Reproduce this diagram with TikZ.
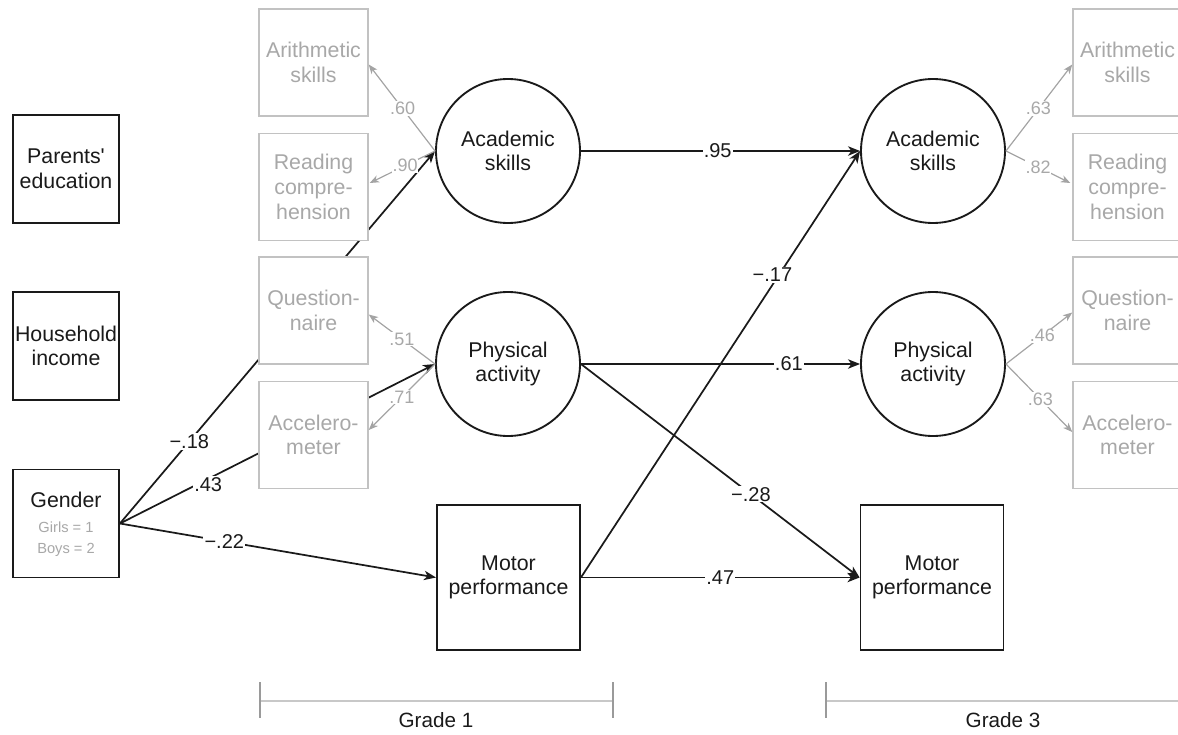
\documentclass[tikz,border=0pt]{standalone}
\usepackage{fontspec}
\setmainfont{Liberation Sans}
\usetikzlibrary{arrows.meta,calc}
\definecolor{ink}{HTML}{1A1A1A}
\definecolor{grayline}{HTML}{C2C2C2}
\definecolor{graytext}{HTML}{A8A8A8}
\definecolor{grayarrow}{HTML}{A4A4A4}
\definecolor{barline}{HTML}{C8C8C8}
\definecolor{tickgray}{HTML}{9A9A9A}
\begin{document}
\begin{tikzpicture}[x=0.75pt,y=-0.75pt,
  txt/.style={font=\fontsize{16}{18.5}\selectfont},
  blackbox/.style={txt, draw=ink, line width=1.4pt, fill=white, align=center, text=ink, inner sep=0pt},
  leftbox/.style={blackbox, minimum width=79.5pt, minimum height=81pt},
  motorbox/.style={blackbox, minimum width=107.25pt, minimum height=108.75pt},
  latent/.style={blackbox, circle, minimum size=108pt},
  graybox/.style={txt, draw=grayline, line width=1.1pt, fill=white, align=center, text=graytext, inner sep=0pt, minimum width=81.75pt, minimum height=80.25pt},
  conn/.style={draw=ink, line width=1.3pt, -{Stealth[length=9pt,width=7pt,inset=2.5pt]}},
  gconn/.style={draw=grayarrow, line width=0.9pt, -{Stealth[length=7pt,width=5.5pt,inset=2pt]}},
  lab/.style={fill=white, inner sep=0.8pt, text=ink, font=\fontsize{15}{16}\selectfont},
  glab/.style={fill=white, inner sep=0.6pt, text=graytext, font=\fontsize{13.5}{14}\selectfont},
  small/.style={text=graytext, font=\fontsize{11}{13}\selectfont, inner sep=0pt},
  gradetxt/.style={text=ink, font=\fontsize{15.5}{17}\selectfont, inner sep=0pt},
  bar/.style={draw=barline, line width=1.6pt},
  tick/.style={draw=tickgray, line width=1.1pt}
]
\useasboundingbox (0,0) rectangle (1178,735);

% exogenous boxes
\node[leftbox] (parents) at (66,169) {Parents\textquotesingle\\education};
\node[leftbox] (household) at (66,346) {Household\\income};
\node[leftbox] (gender) at (66,523.5) {};
\node[txt, text=ink, inner sep=0pt] (gendertxt) at (66,500) {Gender};
\node[small] (girls) at (66,527) {Girls = 1};
\node[small] (boys) at (66,550) {Boys = 2};

% latent and observed variables
\node[latent] (acad1) at (508,151) {Academic\\skills};
\node[latent] (phys1) at (508,364) {Physical\\activity};
\node[motorbox] (motor1) at (508.5,577.5) {Motor\\performance};
\node[latent] (acad3) at (933,151) {Academic\\skills};
\node[latent] (phys3) at (933,364) {Physical\\activity};
\node[motorbox] (motor3) at (932,577.5) {Motor\\performance};

% paths from gender (pass behind grey boxes)
\draw[conn] (gender.east) -- node[lab, pos=0.22] {−.18} (acad1.west);
\draw[conn] (gender.east) -- node[lab, pos=0.28, yshift=-4pt] {.43} (phys1.west);
\draw[conn] (gender.east) -- node[lab, pos=0.33] {−.22} (motor1.west);

% grey indicator boxes
\node[graybox] (ga1) at (313.5,62.5) {Arithmetic\\skills};
\node[graybox] (gr1) at (313.5,187) {Reading\\compre-\\hension};
\node[graybox] (gq1) at (313.5,310.5) {Question-\\naire};
\node[graybox] (gx1) at (313.5,435) {Accelero-\\meter};
\node[graybox] (ga3) at (1127.5,62.5) {Arithmetic\\skills};
\node[graybox] (gr3) at (1127.5,187) {Reading\\compre-\\hension};
\node[graybox] (gq3) at (1127.5,310.5) {Question-\\naire};
\node[graybox] (gx3) at (1127.5,435) {Accelero-\\meter};

% loadings
\draw[gconn] (acad1.west) -- node[glab, pos=0.49] {.60} ($(ga1.east)+(0,2)$);
\draw[gconn] (acad1.west) -- node[glab, pos=0.46] {.90} ($(gr1.east)+(1,-4)$);
\draw[gconn] (phys1.west) -- node[glab, pos=0.5] {.51} ($(gq1.east)+(0,4)$);
\draw[gconn] (phys1.west) -- node[glab, pos=0.5] {.71} ($(gx1.east)+(0,-5)$);
\draw[gconn] (acad3.east) -- node[glab, pos=0.49] {.63} ($(ga3.west)+(0,2)$);
\draw[gconn] (acad3.east) -- node[glab, pos=0.5] {.82} ($(gr3.west)+(-2,-4)$);
\draw[gconn] (phys3.east) -- node[glab, pos=0.55] {.46} ($(gq3.west)+(0,2)$);
\draw[gconn] (phys3.east) -- node[glab, pos=0.52] {.63} ($(gx3.west)+(0,-3)$);

% structural paths
\draw[conn] (acad1.east) -- node[lab, pos=0.49] {.95} (acad3.west);
\draw[conn] (phys1.east) -- node[lab, pos=0.745] {.61} (phys3.west);
\draw[conn] (motor1.east) -- node[lab, pos=0.71, xshift=-5pt] {−.17} (acad3.west);
\draw[conn] (phys1.east) -- node[lab, pos=0.61] {−.28} (motor3.west);
\draw[conn] (motor1.east) -- node[lab, pos=0.5] {.47} (motor3.west);

% grade bars
\coordinate (g1l) at (260,701);
\coordinate (g1r) at (613,701);
\coordinate (g3l) at (826,701);
\coordinate (g3r) at (1178,701);
\draw[bar] (g1l) -- (g1r);
\draw[bar] (g3l) -- (g3r);
\draw[tick] ($(g1l)+(0,-19)$) -- ($(g1l)+(0,17)$);
\draw[tick] ($(g1r)+(0,-19)$) -- ($(g1r)+(0,17)$);
\draw[tick] ($(g3l)+(0,-19)$) -- ($(g3l)+(0,17)$);
\node[gradetxt] (grade1) at (436,720) {Grade 1};
\node[gradetxt] (grade3) at (1003,720) {Grade 3};
\end{tikzpicture}
\end{document}
